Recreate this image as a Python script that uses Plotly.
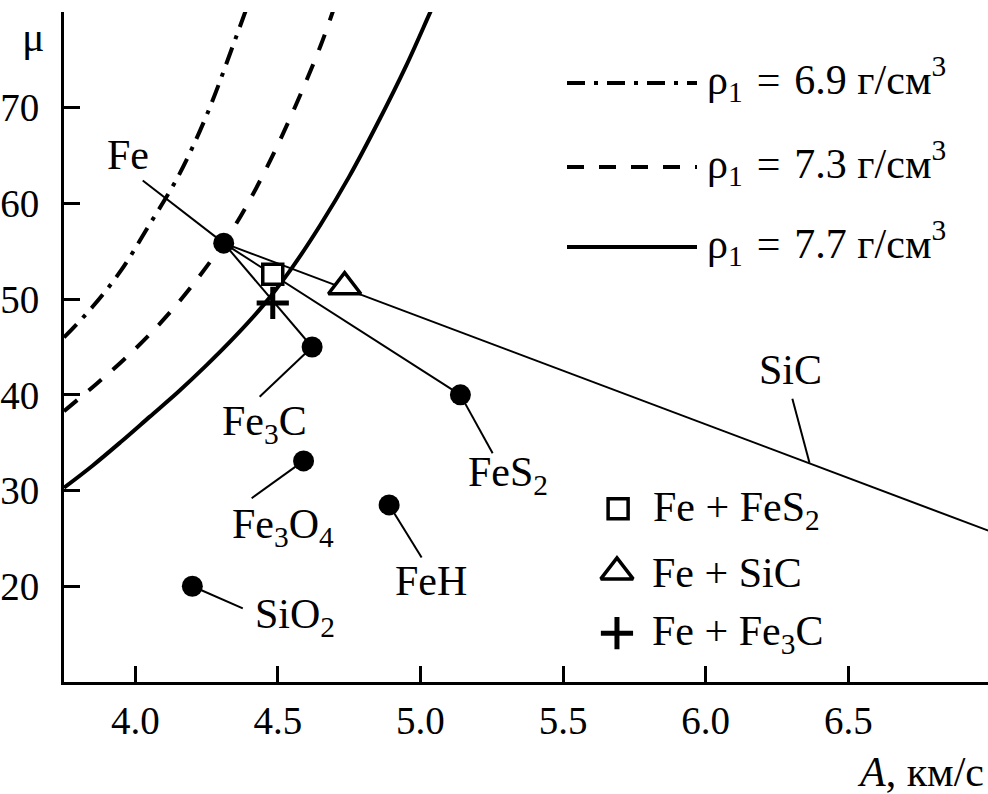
import plotly.graph_objects as go

# ---- density curves mu(A) ----
rho_values = ["6.9", "7.3", "7.7"]
A_rho69 = [3.75, 3.85, 3.95, 4.05, 4.15, 4.25, 4.35, 4.40]
mu_rho69 = [46.0, 49.2, 53.0, 57.8, 62.8, 69.2, 77.1, 81.2]
A_rho73 = [3.75, 3.85, 3.95, 4.05, 4.15, 4.25, 4.35, 4.45, 4.55, 4.65, 4.70]
mu_rho73 = [38.3, 40.8, 43.4, 46.3, 49.6, 53.4, 57.7, 63.1, 69.4, 76.5, 80.7]
A_rho77 = [3.75, 3.85, 3.95, 4.05, 4.15, 4.25, 4.35, 4.45, 4.55, 4.65, 4.75, 4.85, 4.95, 5.03, 5.06]
mu_rho77 = [30.3, 32.6, 35.1, 37.7, 40.3, 43.1, 46.1, 49.4, 53.3, 57.8, 62.8, 68.4, 74.4, 79.7, 81.7]

# ---- compounds ----
compounds = ["Fe", "Fe3C", "FeS2", "Fe3O4", "FeH", "SiO2", "SiC"]
compound_labels = ["Fe", "Fe<sub>3</sub>C", "FeS<sub>2</sub>", "Fe<sub>3</sub>O<sub>4</sub>",
                   "FeH", "SiO<sub>2</sub>", "SiC"]
A_comp = [4.31, 4.62, 5.14, 4.59, 4.89, 4.20, 7.51]
mu_comp = [55.85, 45.0, 40.0, 33.1, 28.5, 20.0, 20.0]
# leader-line ends and label anchors (left edge, middle)
A_lead = [4.026, 4.436, 5.253, 4.408, 5.004, 4.377, 6.304]
mu_lead = [62.4, 39.8, 33.9, 29.2, 23.0, 17.7, 39.6]
A_lab = [3.893, 4.296, 5.159, 4.331, 4.903, 4.412, 6.179]
mu_lab = [65.1, 37.0, 31.6, 26.2, 20.6, 16.8, 42.6]
A_sic_lead_start = 6.364
mu_sic_lead_start = 32.9

# ---- mixtures ----
mixtures = ["Fe + FeS<sub>2</sub>", "Fe + SiC", "Fe + Fe<sub>3</sub>C"]
A_mix = [4.482, 4.734, 4.482]
mu_mix = [52.6, 51.3, 49.6]
mix_symbols = ["square", "triangle-up", "cross-thin"]
A_mix_legend = [5.693, 5.689, 5.689]
mu_mix_legend = [28.1, 21.5, 15.1]

x_ticks = [4.0, 4.5, 5.0, 5.5, 6.0, 6.5]
x_ticktext = ["4.0", "4.5", "5.0", "5.5", "6.0", "6.5"]
y_ticks = [20, 30, 40, 50, 60, 70]

FONT = "Liberation Serif, Times New Roman, Times, serif"
FS = 42
FS_TICK = 39

fig = go.Figure()

curve_styles = [
    (A_rho69, mu_rho69, "18px,9px,4px,9px"),
    (A_rho73, mu_rho73, "17px,15px"),
    (A_rho77, mu_rho77, "solid"),
]
for xs, ys, dash in curve_styles:
    fig.add_trace(go.Scatter(x=xs, y=ys, mode="lines",
                             line=dict(color="black", width=4, dash=dash, shape="spline"),
                             hoverinfo="skip"))

# lines from Fe to Fe3C, FeS2, SiC
fe_i = 0
for name in ["Fe3C", "FeS2", "SiC"]:
    i = compounds.index(name)
    fig.add_trace(go.Scatter(x=[A_comp[fe_i], A_comp[i]], y=[mu_comp[fe_i], mu_comp[i]],
                             mode="lines", line=dict(color="black", width=2)))

# leader lines
for i, name in enumerate(compounds):
    if name == "SiC":
        x0, y0 = A_sic_lead_start, mu_sic_lead_start
    else:
        x0, y0 = A_comp[i], mu_comp[i]
    fig.add_trace(go.Scatter(x=[x0, A_lead[i]], y=[y0, mu_lead[i]], mode="lines",
                             line=dict(color="black", width=2)))

# compound dots (SiC lies outside the plot)
fig.add_trace(go.Scatter(x=A_comp[:-1], y=mu_comp[:-1], mode="markers",
                         marker=dict(color="black", size=21, symbol="circle")))

# mixture markers
def mix_marker(sym):
    if sym == "cross-thin":
        return dict(symbol=sym, size=23, color="black", line=dict(color="black", width=5))
    if sym == "square":
        return dict(symbol=sym, size=20, color="white", line=dict(color="black", width=3.5))
    return dict(symbol=sym, size=28, color="white", line=dict(color="black", width=3.5))

for j, sym in enumerate(mix_symbols):
    fig.add_trace(go.Scatter(x=[A_mix[j]], y=[mu_mix[j]], mode="markers", marker=mix_marker(sym)))
    fig.add_trace(go.Scatter(x=[A_mix_legend[j]], y=[mu_mix_legend[j]], mode="markers",
                             marker=mix_marker(sym)))

annotations = []
for i, lab in enumerate(compound_labels):
    annotations.append(dict(x=A_lab[i], y=mu_lab[i], xref="x", yref="y", text=lab,
                            showarrow=False, xanchor="left", yanchor="middle",
                            font=dict(family=FONT, size=FS, color="black")))

for j, lab in enumerate(mixtures):
    annotations.append(dict(x=A_mix_legend[j] + 0.115, y=mu_mix_legend[j] - 0.1, xref="x", yref="y",
                            text=lab, showarrow=False, xanchor="left", yanchor="middle",
                            font=dict(family=FONT, size=FS, color="black")))

# density legend (paper coords, from window pixels)
W, H, L, B = 924, 670, 64, 682
def px(xp):
    return (xp - L) / W
def py(yp):
    return (B - yp) / H

legend_y = [83, 167, 247]
shapes = []
for k, (xs, ys, dash) in enumerate(curve_styles):
    shapes.append(dict(type="line", xref="paper", yref="paper",
                       x0=px(567), x1=px(697), y0=py(legend_y[k]), y1=py(legend_y[k]),
                       line=dict(color="black", width=4, dash=dash)))
    annotations.append(dict(x=px(705), y=py(legend_y[k] - 4), xref="paper", yref="paper",
                            text="ρ<sub>1</sub>\u2004=\u2004" + rho_values[k] + " г/см<sup>3</sup>",
                            showarrow=False, xanchor="left", yanchor="middle",
                            font=dict(family=FONT, size=FS, color="black")))

annotations.append(dict(x=px(33), y=py(37), xref="paper", yref="paper", text="μ",
                        showarrow=False, xanchor="center", yanchor="middle",
                        font=dict(family=FONT, size=FS, color="black")))
annotations.append(dict(x=px(986), y=py(772), xref="paper", yref="paper",
                        text="<i>A</i>, км/с", showarrow=False, xanchor="right", yanchor="middle",
                        font=dict(family=FONT, size=FS, color="black")))

axis_common = dict(showline=True, linewidth=3, linecolor="black", ticks="inside",
                   ticklen=16, tickwidth=3, tickcolor="black", showgrid=False, zeroline=False,
                   mirror=False, tickfont=dict(family=FONT, size=FS_TICK, color="black"))

fig.update_layout(
    width=988, height=794,
    margin=dict(l=64, r=0, t=12, b=112),
    paper_bgcolor="white", plot_bgcolor="white",
    font=dict(family=FONT, size=FS_TICK, color="black"),
    showlegend=False,
    xaxis=dict(range=[3.75, 6.99], tickvals=x_ticks, ticktext=x_ticktext,
               ticklabelstandoff=2, **axis_common),
    yaxis=dict(range=[10, 80], tickvals=y_ticks, ticklabelstandoff=14, **axis_common),
    annotations=annotations, shapes=shapes,
)

fig.write_html("out.html", config={"displayModeBar": False},
               post_script="document.body.style.margin='0px';document.body.style.overflow='hidden';")
